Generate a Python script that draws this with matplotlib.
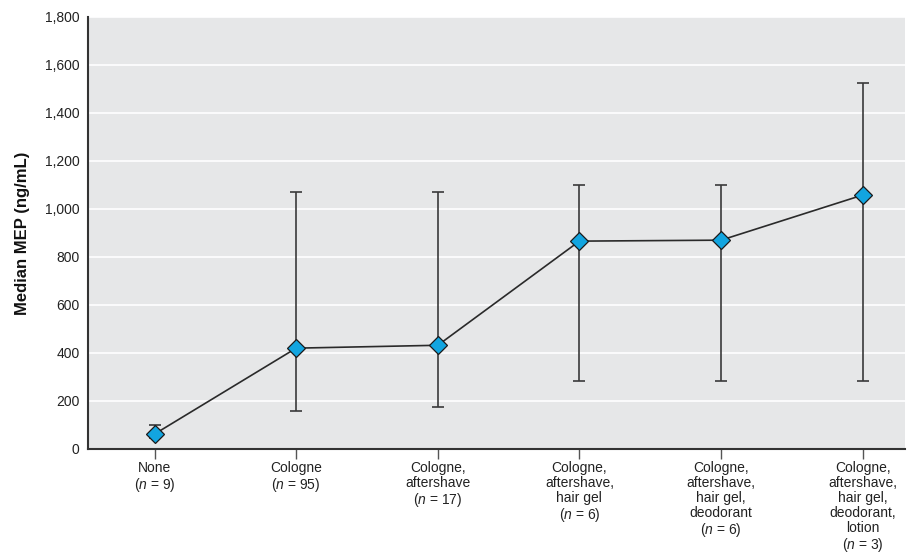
import matplotlib
matplotlib.use("Agg")
import matplotlib.pyplot as plt
from matplotlib import font_manager

names = {f.name for f in font_manager.fontManager.ttflist}
base = "Liberation Sans Narrow" if "Liberation Sans Narrow" in names else "Liberation Sans"
plt.rcParams['font.family'] = [base, 'DejaVu Sans']
plt.rcParams['mathtext.fontset'] = 'custom'
plt.rcParams['mathtext.rm'] = base
plt.rcParams['mathtext.it'] = base + ':italic'

categories = [
    "None\n($\\it{n}$ = 9)",
    "Cologne\n($\\it{n}$ = 95)",
    "Cologne,\naftershave\n($\\it{n}$ = 17)",
    "Cologne,\naftershave,\nhair gel\n($\\it{n}$ = 6)",
    "Cologne,\naftershave,\nhair gel,\ndeodorant\n($\\it{n}$ = 6)",
    "Cologne,\naftershave,\nhair gel,\ndeodorant,\nlotion\n($\\it{n}$ = 3)",
]
median = [62, 420, 432, 866, 870, 1058]
lower = [45, 157, 174, 283, 283, 282]
upper = [99, 1070, 1069, 1100, 1100, 1525]
yticks = [0, 200, 400, 600, 800, 1000, 1200, 1400, 1600, 1800]
ytick_labels = ["0", "200", "400", "600", "800", "1,000", "1,200", "1,400", "1,600", "1,800"]

fig = plt.figure(figsize=(9.07, 5.57), dpi=100)
ax = fig.add_axes([0.097, 0.194, 0.901, 0.7755])
ax.set_facecolor('#e6e7e8')

x = list(range(len(categories)))
yerr = [[m - l for m, l in zip(median, lower)], [u - m for m, u in zip(median, upper)]]
ax.errorbar(x, median, yerr=yerr, fmt='none', ecolor='#3a3a3a', elinewidth=1.2,
            capsize=4.5, capthick=1.2, zorder=3)
ax.plot(x, median, color='#2a2a2a', lw=1.2, zorder=4)
ax.plot(x, median, linestyle='none', marker='D', markersize=9,
        markerfacecolor='#12a5e0', markeredgecolor='#1a1a1a', markeredgewidth=0.9, zorder=5)

ax.set_ylim(0, 1800)
ax.set_xlim(-0.47, 5.3)
ax.set_yticks(yticks)
ax.set_yticklabels(ytick_labels, fontsize=10, color='#222222')
ax.set_xticks(x)
ax.set_xticklabels(categories, fontsize=10, color='#222222', va='top', linespacing=1.08)
ax.yaxis.grid(True, color='white', lw=1.2)
ax.set_axisbelow(True)
ax.tick_params(axis='y', length=0, pad=6)
ax.tick_params(axis='x', length=7, width=1, color='#555555', pad=2)
for s in ['top', 'right']:
    ax.spines[s].set_visible(False)
for s in ['left', 'bottom']:
    ax.spines[s].set_color('#333333')
    ax.spines[s].set_linewidth(1.5)

ax.set_ylabel("Median MEP (ng/mL)", fontsize=12, fontweight='bold', labelpad=11, color='#111111')

fig.savefig("out.png", dpi=100)
